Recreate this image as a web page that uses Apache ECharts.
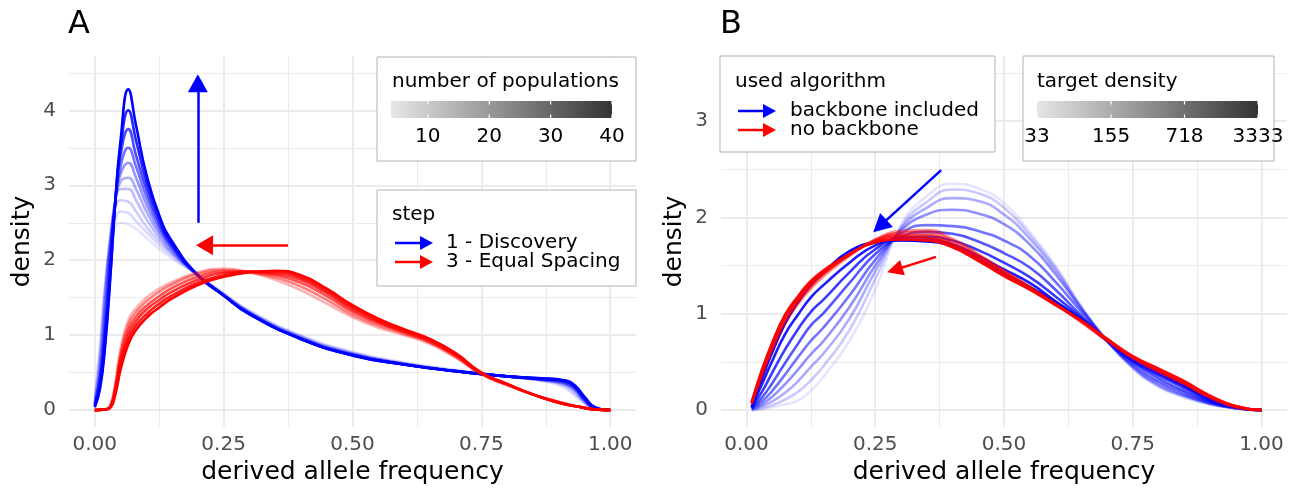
<!DOCTYPE html>
<html>
<head>
<meta charset="utf-8">
<script src="https://cdn.jsdelivr.net/npm/echarts@6/dist/echarts.min.js"></script>
<style>
html,body{margin:0;padding:0;background:#fff;}
#chart{width:1298px;height:490px;}
</style>
</head>
<body>
<div id="chart"></div>
<script>
// ---- panel A, step 1 - Discovery (blue), one row per number of populations
const freqA_discovery = [0, 0.01, 0.02, 0.03, 0.04, 0.05, 0.065, 0.08, 0.1, 0.125, 0.15, 0.2, 0.25, 0.3, 0.4, 0.5, 0.6, 0.7, 0.8, 0.88, 0.91, 0.93, 0.95, 0.97, 1];
const popsA_discovery = [4, 6, 8, 10, 13, 17, 22, 28, 34, 40];
const densA_discovery = [
  [0.15, 0.9, 1.7, 2.2, 2.45, 2.5, 2.48, 2.42, 2.3, 2.15, 2.02, 1.8, 1.56, 1.33, 1.0, 0.78, 0.64, 0.54, 0.45, 0.37, 0.3, 0.2, 0.09, 0.02, 0],
  [0.12, 0.8, 1.65, 2.25, 2.55, 2.65, 2.63, 2.52, 2.38, 2.2, 2.05, 1.8, 1.55, 1.32, 0.99, 0.77, 0.63, 0.53, 0.45, 0.38, 0.32, 0.22, 0.1, 0.02, 0],
  [0.1, 0.7, 1.6, 2.3, 2.7, 2.8, 2.78, 2.65, 2.45, 2.25, 2.08, 1.8, 1.55, 1.31, 0.98, 0.76, 0.62, 0.52, 0.45, 0.39, 0.34, 0.25, 0.11, 0.02, 0],
  [0.1, 0.6, 1.5, 2.3, 2.8, 2.95, 2.95, 2.8, 2.55, 2.3, 2.1, 1.8, 1.54, 1.3, 0.97, 0.75, 0.62, 0.52, 0.45, 0.39, 0.35, 0.27, 0.12, 0.02, 0],
  [0.08, 0.5, 1.35, 2.2, 2.8, 3.05, 3.1, 2.95, 2.65, 2.35, 2.12, 1.8, 1.54, 1.3, 0.96, 0.75, 0.62, 0.52, 0.45, 0.4, 0.36, 0.28, 0.13, 0.03, 0],
  [0.07, 0.45, 1.2, 2.1, 2.8, 3.15, 3.3, 3.1, 2.75, 2.4, 2.15, 1.8, 1.53, 1.29, 0.96, 0.74, 0.61, 0.52, 0.45, 0.4, 0.37, 0.3, 0.14, 0.03, 0],
  [0.06, 0.4, 1.1, 2.0, 2.8, 3.25, 3.5, 3.25, 2.85, 2.45, 2.17, 1.8, 1.53, 1.29, 0.95, 0.74, 0.61, 0.52, 0.45, 0.41, 0.38, 0.31, 0.15, 0.03, 0],
  [0.05, 0.35, 1.0, 1.9, 2.8, 3.4, 3.75, 3.4, 2.95, 2.5, 2.2, 1.8, 1.53, 1.28, 0.95, 0.73, 0.61, 0.52, 0.45, 0.41, 0.39, 0.32, 0.16, 0.03, 0],
  [0.05, 0.3, 0.9, 1.8, 2.8, 3.5, 4.0, 3.6, 3.05, 2.55, 2.22, 1.8, 1.53, 1.28, 0.95, 0.73, 0.61, 0.52, 0.45, 0.42, 0.39, 0.33, 0.17, 0.04, 0],
  [0.04, 0.28, 0.85, 1.75, 2.8, 3.6, 4.28, 3.8, 3.15, 2.6, 2.25, 1.8, 1.53, 1.28, 0.95, 0.73, 0.61, 0.52, 0.45, 0.42, 0.4, 0.34, 0.18, 0.04, 0]
];

// ---- panel A, step 3 - Equal Spacing (red)
const freqA_spacing = [0, 0.02, 0.03, 0.04, 0.05, 0.065, 0.08, 0.1, 0.125, 0.15, 0.2, 0.25, 0.3, 0.35, 0.4, 0.45, 0.5, 0.55, 0.6, 0.65, 0.7, 0.75, 0.8, 0.85, 0.9, 0.95, 0.97, 1.0];
const popsA_spacing = [12, 20, 27, 32, 36, 40];
const densA_spacing = [
  [0, 0.01, 0.06, 0.38, 0.82, 1.2, 1.36, 1.5, 1.62, 1.71, 1.84, 1.89, 1.84, 1.74, 1.6, 1.42, 1.24, 1.1, 1.0, 0.88, 0.7, 0.48, 0.33, 0.21, 0.11, 0.03, 0.01, 0],
  [0, 0.01, 0.05, 0.34, 0.76, 1.14, 1.31, 1.45, 1.58, 1.68, 1.82, 1.87, 1.84, 1.77, 1.65, 1.47, 1.27, 1.13, 1.02, 0.9, 0.71, 0.48, 0.34, 0.21, 0.11, 0.03, 0.01, 0],
  [0, 0.01, 0.05, 0.3, 0.7, 1.07, 1.25, 1.39, 1.52, 1.63, 1.78, 1.85, 1.84, 1.8, 1.7, 1.52, 1.31, 1.16, 1.04, 0.91, 0.73, 0.49, 0.34, 0.21, 0.11, 0.03, 0.01, 0],
  [0, 0.01, 0.04, 0.27, 0.64, 1.0, 1.19, 1.34, 1.47, 1.58, 1.74, 1.83, 1.85, 1.82, 1.74, 1.56, 1.34, 1.18, 1.05, 0.93, 0.74, 0.49, 0.34, 0.21, 0.1, 0.03, 0.01, 0],
  [0, 0.01, 0.04, 0.24, 0.59, 0.94, 1.13, 1.28, 1.42, 1.53, 1.7, 1.8, 1.85, 1.84, 1.77, 1.59, 1.37, 1.2, 1.07, 0.94, 0.75, 0.5, 0.35, 0.21, 0.1, 0.03, 0.01, 0],
  [0, 0.01, 0.03, 0.21, 0.54, 0.88, 1.07, 1.23, 1.37, 1.49, 1.67, 1.78, 1.84, 1.86, 1.8, 1.62, 1.4, 1.22, 1.08, 0.95, 0.76, 0.5, 0.35, 0.21, 0.1, 0.03, 0.01, 0]
];

// ---- panel B, backbone included (blue) / no backbone (red), one row per target density
const freqB = [0.01, 0.03, 0.05, 0.075, 0.1, 0.125, 0.15, 0.2, 0.25, 0.3, 0.35, 0.4, 0.45, 0.5, 0.55, 0.6, 0.65, 0.7, 0.75, 0.8, 0.85, 0.9, 0.95, 1.0];
const targetB_backbone = [33, 58, 104, 185, 330, 587, 1045, 1860, 3333];
const densB_backbone = [
  [0.00, 0.01, 0.03, 0.06, 0.10, 0.20, 0.35, 0.72, 1.25, 1.92, 2.22, 2.35, 2.30, 2.15, 1.85, 1.50, 1.08, 0.72, 0.43, 0.24, 0.13, 0.06, 0.02, 0],
  [0.00, 0.02, 0.05, 0.11, 0.19, 0.31, 0.46, 0.83, 1.36, 1.90, 2.16, 2.29, 2.25, 2.10, 1.82, 1.48, 1.07, 0.72, 0.44, 0.25, 0.14, 0.06, 0.02, 0],
  [0.01, 0.04, 0.09, 0.18, 0.30, 0.45, 0.59, 0.95, 1.44, 1.88, 2.10, 2.20, 2.17, 2.03, 1.78, 1.45, 1.06, 0.72, 0.45, 0.26, 0.15, 0.07, 0.02, 0],
  [0.01, 0.06, 0.14, 0.27, 0.42, 0.58, 0.72, 1.07, 1.50, 1.86, 2.03, 2.08, 2.04, 1.93, 1.72, 1.41, 1.05, 0.72, 0.46, 0.28, 0.16, 0.07, 0.02, 0],
  [0.02, 0.09, 0.20, 0.37, 0.55, 0.72, 0.86, 1.19, 1.56, 1.83, 1.92, 1.91, 1.86, 1.76, 1.60, 1.33, 1.02, 0.72, 0.48, 0.30, 0.18, 0.08, 0.02, 0],
  [0.02, 0.13, 0.28, 0.49, 0.69, 0.88, 1.01, 1.32, 1.62, 1.80, 1.85, 1.83, 1.75, 1.63, 1.48, 1.25, 0.98, 0.72, 0.50, 0.33, 0.20, 0.09, 0.03, 0],
  [0.03, 0.19, 0.39, 0.63, 0.84, 1.02, 1.15, 1.43, 1.67, 1.79, 1.80, 1.76, 1.66, 1.53, 1.38, 1.18, 0.96, 0.72, 0.51, 0.36, 0.23, 0.10, 0.03, 0],
  [0.03, 0.27, 0.51, 0.79, 0.99, 1.17, 1.30, 1.53, 1.71, 1.77, 1.77, 1.72, 1.60, 1.46, 1.32, 1.13, 0.94, 0.72, 0.52, 0.38, 0.25, 0.11, 0.03, 0],
  [0.03, 0.33, 0.60, 0.90, 1.12, 1.30, 1.43, 1.65, 1.74, 1.76, 1.75, 1.70, 1.57, 1.42, 1.28, 1.12, 0.94, 0.73, 0.54, 0.40, 0.26, 0.12, 0.03, 0]
];
const targetB_nobackbone = [155, 330, 718, 1560, 3333];
const densB_nobackbone = [
  [0.06, 0.35, 0.62, 0.90, 1.10, 1.26, 1.39, 1.60, 1.77, 1.86, 1.87, 1.78, 1.62, 1.45, 1.28, 1.10, 0.91, 0.72, 0.54, 0.40, 0.27, 0.13, 0.03, 0],
  [0.07, 0.37, 0.64, 0.93, 1.12, 1.28, 1.41, 1.61, 1.77, 1.84, 1.85, 1.76, 1.61, 1.44, 1.28, 1.10, 0.92, 0.72, 0.54, 0.40, 0.27, 0.13, 0.03, 0],
  [0.07, 0.38, 0.66, 0.95, 1.14, 1.30, 1.42, 1.61, 1.76, 1.82, 1.82, 1.73, 1.59, 1.43, 1.27, 1.10, 0.92, 0.73, 0.55, 0.41, 0.28, 0.14, 0.04, 0],
  [0.08, 0.40, 0.68, 0.97, 1.16, 1.32, 1.44, 1.62, 1.75, 1.80, 1.79, 1.71, 1.57, 1.41, 1.26, 1.10, 0.93, 0.74, 0.55, 0.42, 0.29, 0.14, 0.04, 0],
  [0.08, 0.42, 0.70, 0.99, 1.18, 1.34, 1.45, 1.62, 1.74, 1.77, 1.76, 1.69, 1.55, 1.39, 1.25, 1.09, 0.93, 0.74, 0.56, 0.43, 0.30, 0.15, 0.04, 0]
];

// legend scales
const popsBreaks = [10, 20, 30, 40];
const popsRange = [4, 40];
const targetBreaks = [33, 155, 718, 3333];
const targetRange = [33, 3333];

// arrows [x0, y0, x1, y1] in data units (end = arrowhead centre)
const arrowA_blue = [0.2, 2.5, 0.2, 4.36];
const arrowA_red = [0.375, 2.2, 0.213, 2.2];
const arrowB_blue = [0.378, 2.49, 0.259, 1.91];
const arrowB_red = [0.368, 1.59, 0.288, 1.455];

const BLUE = '#0000FF', RED = '#FF0000';
const FONT = '"DejaVu Sans", sans-serif';

function alphaLin(v, r) { return 0.1 + 0.9 * (v - r[0]) / (r[1] - r[0]); }
function alphaLog(v, r) { return 0.1 + 0.9 * Math.log(v / r[0]) / Math.log(r[1] / r[0]); }

function curve(idx, freq, dens, color, alpha) {
  return {
    type: 'line', xAxisIndex: idx, yAxisIndex: idx,
    data: freq.map((f, i) => [f, dens[i]]),
    showSymbol: false, smooth: 0.5, silent: true,
    lineStyle: { color: color, width: 2.6, opacity: alpha },
    animation: false
  };
}

function arrow(idx, a, color, size) {
  return {
    type: 'line', xAxisIndex: idx, yAxisIndex: idx, data: [], silent: true, animation: false,
    markLine: {
      silent: true, animation: false,
      symbol: ['none', 'triangle'], symbolSize: size,
      label: { show: false },
      lineStyle: { color: color, width: 2.5, type: 'solid', opacity: 1 },
      emphasis: { disabled: true },
      data: [[{ coord: [a[0], a[1]] }, { coord: [a[2], a[3]] }]]
    }
  };
}

function xAx(idx) {
  return {
    gridIndex: idx, type: 'value', min: idx ? -0.0495 : -0.05, max: idx ? 1.0495 : 1.05,
    minInterval: 0.25, maxInterval: 0.25,
    name: 'derived allele frequency', nameLocation: 'middle', nameGap: 33,
    nameTextStyle: { fontSize: 25, color: '#000', fontFamily: FONT },
    axisLine: { show: false }, axisTick: { show: false },
    axisLabel: { showMinLabel: false, showMaxLabel: false, fontSize: 20, color: '#4d4d4d', margin: 8, fontFamily: FONT,
      formatter: v => v.toFixed(2) },
    splitLine: { show: true, showMinLine: false, showMaxLine: false, lineStyle: { color: '#ebebeb', width: 2 } },
    minorTick: { show: false, splitNumber: 2 },
    minorSplitLine: { show: true, lineStyle: { color: '#ebebeb', width: 1 } }
  };
}
function yAx(idx, min, max) {
  return {
    gridIndex: idx, type: 'value', min: min, max: max,
    minInterval: 1, maxInterval: 1,
    name: 'density', nameLocation: 'middle', nameGap: 34,
    nameTextStyle: { fontSize: 25, color: '#000', fontFamily: FONT },
    axisLine: { show: false }, axisTick: { show: false },
    axisLabel: { showMinLabel: false, showMaxLabel: false, fontSize: 20, color: '#4d4d4d', margin: 13, fontFamily: FONT },
    splitLine: { show: true, showMinLine: false, showMaxLine: false, lineStyle: { color: '#ebebeb', width: 2 } },
    minorTick: { show: false, splitNumber: 2 },
    minorSplitLine: { show: true, lineStyle: { color: '#ebebeb', width: 1 } }
  };
}

const series = [];
densA_discovery.forEach((d, i) => series.push(curve(0, freqA_discovery, d, BLUE, alphaLin(popsA_discovery[i], popsRange))));
densA_spacing.forEach((d, i) => series.push(curve(0, freqA_spacing, d, RED, alphaLin(popsA_spacing[i], popsRange))));
densB_backbone.forEach((d, i) => series.push(curve(1, freqB, d, BLUE, alphaLog(targetB_backbone[i], targetRange))));
densB_nobackbone.forEach((d, i) => series.push(curve(1, freqB, d, RED, alphaLog(targetB_nobackbone[i], targetRange))));
series.push(arrow(0, arrowA_blue, BLUE, [20, 18]));
series.push(arrow(0, arrowA_red, RED, [20, 17]));
series.push(arrow(1, arrowB_blue, BLUE, [19, 18]));
series.push(arrow(1, arrowB_red, RED, [16, 16]));

// ---- legends drawn as graphics
function txt(x, y, s, size, align, color) {
  return { type: 'text', silent: true, z: 20, style: { x: x, y: y, text: s, font: size + 'px ' + FONT, fill: color || '#000', align: align || 'left', verticalAlign: 'middle' } };
}
function box(x, y, w, h) {
  return { type: 'rect', silent: true, z: 15, shape: { x: x, y: y, width: w, height: h }, style: { fill: '#fff', stroke: '#b3b3b3', lineWidth: 1 } };
}
function keyArrow(x, y, color) {
  return [
    { type: 'line', silent: true, z: 20, shape: { x1: x, y1: y, x2: x + 27, y2: y }, style: { stroke: color, lineWidth: 2.5 } },
    { type: 'polygon', silent: true, z: 21, shape: { points: [[x + 25, y - 7], [x + 38, y], [x + 25, y + 7]] }, style: { fill: color } }
  ];
}
function colorbar(x, y, w, h, breaks, pos, labelY) {
  const g = [{ type: 'rect', silent: true, z: 20, shape: { x: x, y: y, width: w, height: h },
    style: { fill: new echarts.graphic.LinearGradient(0, 0, 1, 0, [{ offset: 0, color: '#e6e6e6' }, { offset: 0.5, color: '#8f8f8f' }, { offset: 1, color: '#333333' }]) } }];
  breaks.forEach(b => {
    const px = x + w * pos(b);
    g.push({ type: 'line', silent: true, z: 21, shape: { x1: px, y1: y, x2: px, y2: y + 3.5 }, style: { stroke: '#fff', lineWidth: 1.2 } });
    g.push({ type: 'line', silent: true, z: 21, shape: { x1: px, y1: y + h - 3.5, x2: px, y2: y + h }, style: { stroke: '#fff', lineWidth: 1.2 } });
    g.push(txt(px, labelY, String(b), 20, 'center'));
  });
  return g;
}

const graphic = [
  txt(68, 25, 'A', 32),
  txt(720, 25, 'B', 32),
  box(377, 57, 259, 104),
  txt(392, 82, 'number of populations', 20),
  ...colorbar(391, 101, 221, 17, popsBreaks, b => (b - popsRange[0]) / (popsRange[1] - popsRange[0]), 137),
  box(377, 190, 259, 96),
  txt(392, 215, 'step', 20),
  ...keyArrow(395, 243, BLUE), txt(446, 243, '1 - Discovery', 20),
  ...keyArrow(395, 262, RED), txt(446, 262, '3 - Equal Spacing', 20),
  box(720, 56, 275, 96),
  txt(735, 82, 'used algorithm', 20),
  ...keyArrow(738, 111, BLUE), txt(790, 111, 'backbone included', 20),
  ...keyArrow(738, 130, RED), txt(790, 130, 'no backbone', 20),
  box(1023, 56, 251, 105),
  txt(1037, 82, 'target density', 20),
  ...colorbar(1037, 101, 221, 17, targetBreaks, b => Math.log(b / targetRange[0]) / Math.log(targetRange[1] / targetRange[0]), 137)
];

const chart = echarts.init(document.getElementById('chart'), null, { renderer: 'canvas' });
chart.setOption({
  animation: false,
  backgroundColor: '#fff',
  textStyle: { fontFamily: FONT },
  grid: [
    { left: 69, top: 56, width: 567, height: 371 },
    { left: 721, top: 56, width: 566, height: 371 }
  ],
  xAxis: [xAx(0), xAx(1)],
  yAxis: [yAx(0, -0.225, 4.725), yAx(1, -0.175, 3.675)],
  series: series,
  graphic: graphic
});
</script>
</body>
</html>
